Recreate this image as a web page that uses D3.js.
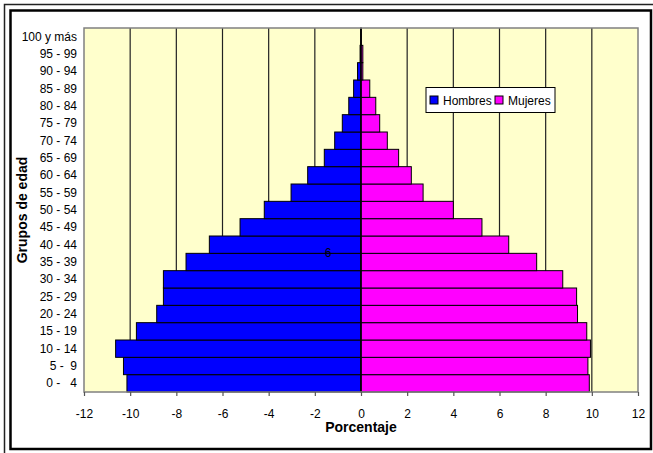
<!DOCTYPE html>
<html>
<head>
<meta charset="utf-8">
<script src="https://cdn.jsdelivr.net/npm/d3@7"></script>
<style>
	body { margin: 0; background: #ffffff; }
	text { font-family: "Liberation Sans", Arial, sans-serif; fill: #000; }
</style>
</head>
<body>
<div class="pyramid"></div>
<script>
	// age groups, bottom to top
	var AGE_GROUPS = ["0 -   4", "5 -  9", "10 - 14", "15 - 19", "20 - 24", "25 - 29", "30 - 34",
		"35 - 39", "40 - 44", "45 - 49", "50 - 54", "55 - 59", "60 - 64", "65 - 69", "70 - 74",
		"75 - 79", "80 - 84", "85 - 89", "90 - 94", "95 - 99", "100 y más"];

	// percentages, men drawn to the left (negative)
	var HOMBRES = [-10.14, -10.29, -10.63, -9.73, -8.85, -8.56, -8.56, -7.58, -6.57, -5.24, -4.19,
		-3.03, -2.31, -1.59, -1.14, -0.81, -0.53, -0.32, -0.15, -0.04, -0.01];
	var MUJERES = [9.89, 9.83, 9.94, 9.78, 9.38, 9.34, 8.74, 7.61, 6.40, 5.24, 4.00,
		2.69, 2.18, 1.63, 1.14, 0.81, 0.64, 0.38, 0.08, 0.08, 0.01];

	var X_TICKS = [-12, -10, -8, -6, -4, -2, 0, 2, 4, 6, 8, 10, 12];
	var SERIES = ["Hombres", "Mujeres"];
	var COLORS = ["#0000ff", "#ff00ff"];

	var W = 653, H = 453;
	var plot = { left : 84, right : 638, top : 28, bottom : 392 };

	var svg = d3.select(".pyramid").append("svg")
		.attr("width", W)
		.attr("height", H);

	// outer double frame
	svg.append("rect")
		.attr("x", 4.5).attr("y", 4.5)
		.attr("width", 670).attr("height", 470)
		.attr("fill", "none")
		.attr("stroke", "#222")
		.attr("stroke-width", 1.5);
	svg.append("rect")
		.attr("x", 10.5).attr("y", 10.5)
		.attr("width", 640.5).attr("height", 438.5)
		.attr("fill", "#fff")
		.attr("stroke", "#000")
		.attr("stroke-width", 2.5);

	var xScale = d3.scaleLinear()
		.domain([-12, 12])
		.range([plot.left, plot.right]);

	var yScale = d3.scaleBand()
		.domain(AGE_GROUPS.slice().reverse())
		.range([plot.top, plot.bottom])
		.padding(0);

	// plot area background
	svg.append("rect")
		.attr("x", plot.left).attr("y", plot.top)
		.attr("width", plot.right - plot.left)
		.attr("height", plot.bottom - plot.top)
		.attr("fill", "#ffffcc");

	// vertical gridlines
	svg.selectAll("line.grid")
		.data(X_TICKS.filter(function ( d ) { return d !== 0 && Math.abs(d) !== 12; }))
		.enter()
		.append("line")
		.attr("class", "grid")
		.attr("x1", function ( d ) { return xScale(d); })
		.attr("x2", function ( d ) { return xScale(d); })
		.attr("y1", plot.top)
		.attr("y2", plot.bottom)
		.attr("stroke", "#222")
		.attr("stroke-width", 1.2);

	var rows = AGE_GROUPS.map(function ( g, i ) {
		return { group : g, h : HOMBRES[i], m : MUJERES[i] };
	});

	// men bars
	svg.selectAll("rect.hombres")
		.data(rows)
		.enter()
		.append("rect")
		.attr("class", "hombres")
		.attr("x", function ( d ) { return xScale(d.h); })
		.attr("y", function ( d ) { return yScale(d.group); })
		.attr("width", function ( d ) { return xScale(0) - xScale(d.h); })
		.attr("height", yScale.bandwidth())
		.attr("fill", COLORS[0])
		.attr("stroke", "#000")
		.attr("stroke-width", 1);

	// women bars
	svg.selectAll("rect.mujeres")
		.data(rows)
		.enter()
		.append("rect")
		.attr("class", "mujeres")
		.attr("x", xScale(0))
		.attr("y", function ( d ) { return yScale(d.group); })
		.attr("width", function ( d ) { return xScale(d.m) - xScale(0); })
		.attr("height", yScale.bandwidth())
		.attr("fill", COLORS[1])
		.attr("stroke", "#000")
		.attr("stroke-width", 1);

	// zero line
	svg.append("line")
		.attr("x1", xScale(0)).attr("x2", xScale(0))
		.attr("y1", plot.top).attr("y2", plot.bottom)
		.attr("stroke", "#000")
		.attr("stroke-width", 1.5);

	// plot border
	svg.append("rect")
		.attr("x", plot.left).attr("y", plot.top)
		.attr("width", plot.right - plot.left)
		.attr("height", plot.bottom - plot.top)
		.attr("fill", "none")
		.attr("stroke", "#808080")
		.attr("stroke-width", 1.5);

	// x axis (plain hyphen for negatives, like the original)
	var xAxis = svg.append("g")
		.attr("transform", "translate(0," + plot.bottom + ")")
		.call(d3.axisBottom(xScale)
			.tickValues(X_TICKS)
			.tickFormat(function ( d ) { return String(d); })
			.tickSize(4)
			.tickPadding(13));
	xAxis.select(".domain").remove();
	xAxis.selectAll(".tick line").attr("stroke", "#555").attr("stroke-width", 1.2);
	xAxis.selectAll(".tick text")
		.attr("fill", "#111")
		.style("font-size", "12px")
		.style("font-family", "'Liberation Sans', Arial, sans-serif");

	// y labels
	svg.selectAll("text.age")
		.data(AGE_GROUPS)
		.enter()
		.append("text")
		.attr("class", "age")
		.attr("x", 77)
		.attr("y", function ( d ) { return yScale(d) + yScale.bandwidth() / 2 + 4; })
		.attr("text-anchor", "end")
		.style("white-space", "pre")
		.style("font-size", "12px")
		.attr("fill", "#111")
		.text(function ( d ) { return d; });

	// axis titles
	svg.append("text")
		.attr("text-anchor", "middle")
		.attr("transform", "translate(" + 27 + "," + ((plot.top + plot.bottom) / 2) + ")rotate(-90)")
		.style("font-size", "14px")
		.style("font-weight", "bold")
		.text("Grupos de edad");

	svg.append("text")
		.attr("text-anchor", "middle")
		.attr("x", xScale(0))
		.attr("y", 432)
		.style("font-size", "14px")
		.style("font-weight", "bold")
		.text("Porcentaje");

	// stray label seen in the original
	svg.append("text")
		.attr("x", 328)
		.attr("y", 257)
		.attr("text-anchor", "middle")
		.style("font-size", "12px")
		.attr("fill", "#333")
		.text("6");

	// legend
	var legend = svg.append("g").attr("transform", "translate(426,87.5)");
	legend.append("rect")
		.attr("width", 129).attr("height", 25)
		.attr("fill", "#fff")
		.attr("stroke", "#000")
		.attr("stroke-width", 1);

	var legendX = [4, 69];
	SERIES.forEach(function ( s, i ) {
		legend.append("rect")
			.attr("x", legendX[i]).attr("y", 8.5)
			.attr("width", 8).attr("height", 8)
			.attr("fill", COLORS[i])
			.attr("stroke", "#000")
			.attr("stroke-width", 1);
		legend.append("text")
			.attr("x", legendX[i] + 13)
			.attr("y", 17)
			.style("font-size", "12px")
			.attr("fill", "#111")
			.text(s);
	});
</script>
</body>
</html>
